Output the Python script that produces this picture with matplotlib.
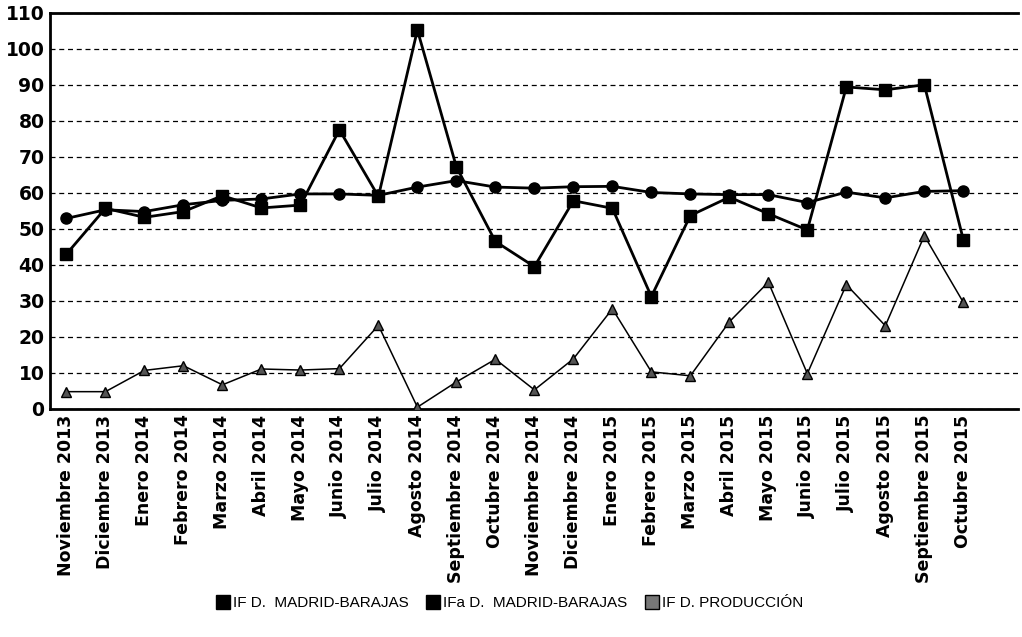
import numpy as np
import matplotlib.pyplot as plt
from matplotlib.lines import Line2D
from matplotlib import font_manager

# Data
months = ["Noviembre 2013", "Diciembre 2013", "Enero 2014", "Febrero 2014",
          "Marzo 2014", "Abril 2014", "Mayo 2014", "Junio 2014", "Julio 2014",
          "Agosto 2014", "Septiembre 2014", "Octubre 2014", "Noviembre 2014",
          "Diciembre 2014", "Enero 2015", "Febrero 2015", "Marzo 2015",
          "Abril 2015", "Mayo 2015", "Junio 2015", "Julio 2015", "Agosto 2015",
          "Septiembre 2015", "Octubre 2015"]
if_madrid = [43, 55.7, 53.2, 54.8, 59.2, 55.8, 56.6, 77.5, 59, 105.2, 67.2,
             46.5, 39.5, 57.8, 55.7, 31.2, 53.7, 58.8, 54.2, 49.7, 89.4, 88.6,
             90, 47]
ifa_madrid = [52.9, 55.3, 54.8, 56.7, 57.9, 58.3, 59.7, 59.7, 59.3, 61.6, 63.4,
              61.6, 61.3, 61.7, 61.8, 60.1, 59.7, 59.5, 59.5, 57.3, 60.2, 58.6,
              60.4, 60.6]
if_produccion = [4.8, 4.8, 10.7, 12, 6.7, 11.1, 10.8, 11.2, 23.2, 0.5, 7.5,
                 13.8, 5.3, 13.9, 27.8, 10.3, 9.2, 24.2, 35.2, 9.8, 34.5, 23.1,
                 48.1, 29.6]
yticks = list(range(0, 111, 10))
legend_labels = ["IF D.  MADRID-BARAJAS", "IFa D.  MADRID-BARAJAS", "IF D. PRODUCCIÓN"]

plt.rcParams['font.family'] = ['DejaVu Sans']

# narrow font for the legend if one is around
installed = {f.name for f in font_manager.fontManager.ttflist}
if 'Liberation Sans Narrow' in installed:
    leg_prop = {'family': 'Liberation Sans Narrow', 'size': 14}
else:
    leg_prop = {'family': 'Liberation Sans', 'size': 11}

fig = plt.figure(figsize=(10.22, 6.37), dpi=100)
ax = fig.add_axes([0.049, 0.358, 0.947, 0.622])

x = np.arange(len(months))
ax.plot(x, if_produccion, color='black', lw=1.1, marker='^', ms=7,
        mfc='#555555', mec='black', zorder=3)
ax.plot(x, ifa_madrid, color='black', lw=2, marker='o', ms=8,
        mfc='black', zorder=4)
ax.plot(x, if_madrid, color='black', lw=2, marker='s', ms=9,
        mfc='black', zorder=5)

ax.set_xlim(-0.42, 24.4)
ax.set_ylim(0, 110)
ax.set_yticks(yticks)
ax.set_yticklabels([str(v) for v in yticks], fontsize=13.5, fontweight='bold')
ax.set_xticks(x)
ax.set_xticklabels(months, rotation=90, fontsize=12.5, fontweight='bold')
ax.tick_params(length=0, pad=4)
ax.yaxis.grid(True, ls=(0, (4, 3)), color='black', lw=0.9)
ax.set_axisbelow(True)
for s in ['left', 'bottom', 'top']:
    ax.spines[s].set_linewidth(2)
ax.spines['right'].set_visible(False)

handles = [
    Line2D([], [], ls='none', marker='s', ms=10, mfc='black', mec='black'),
    Line2D([], [], ls='none', marker='s', ms=10, mfc='black', mec='black'),
    Line2D([], [], ls='none', marker='s', ms=10, mfc='#777777', mec='black'),
]
fig.legend(handles, legend_labels, loc='center', bbox_to_anchor=(0.5, 0.053),
           ncol=3, frameon=False, handlelength=0.6, handletextpad=0.35,
           columnspacing=1.3, prop=leg_prop)

fig.savefig('out.png', dpi=100)
